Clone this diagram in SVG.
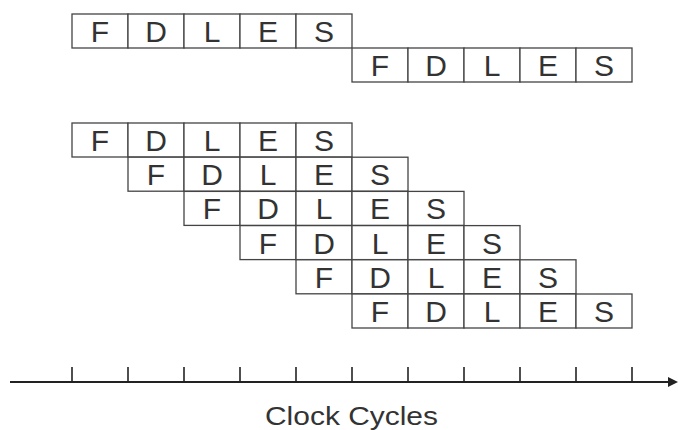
<svg xmlns="http://www.w3.org/2000/svg" width="678" height="430" viewBox="0 0 678 430">
<style>
.cell{fill:#fff;stroke:#444;stroke-width:1.3}
.lbl{font-family:"Liberation Sans",Arial,sans-serif;font-size:30px;fill:#333;text-anchor:middle}
.axis{stroke:#222;stroke-width:2;fill:none}
.tick{stroke:#222;stroke-width:1.6}
.cap{font-family:"Liberation Sans",Arial,sans-serif;font-size:25px;fill:#333}
</style>
<defs>
<g id="stages">
<rect class="cell" x="0" y="0" width="56" height="34"/>
<rect class="cell" x="56" y="0" width="56" height="34"/>
<rect class="cell" x="112" y="0" width="56" height="34"/>
<rect class="cell" x="168" y="0" width="56" height="34"/>
<rect class="cell" x="224" y="0" width="56" height="34"/>
<text class="lbl" x="28" y="28">F</text>
<text class="lbl" x="84" y="28">D</text>
<text class="lbl" x="140" y="28">L</text>
<text class="lbl" x="196" y="28">E</text>
<text class="lbl" x="252" y="28">S</text>
</g>
</defs>
<g id="seq1"><use href="#stages" x="72" y="14"/></g>
<g id="seq2"><use href="#stages" x="352" y="48"/></g>
<g id="pipe1"><use href="#stages" x="72" y="123"/></g>
<g id="pipe2"><use href="#stages" x="128" y="157.2"/></g>
<g id="pipe3"><use href="#stages" x="184" y="191.4"/></g>
<g id="pipe4"><use href="#stages" x="240" y="225.6"/></g>
<g id="pipe5"><use href="#stages" x="296" y="259.8"/></g>
<g id="pipe6"><use href="#stages" x="352" y="294"/></g>
<g id="connectors">
<line class="axis" x1="10" y1="382" x2="670" y2="382"/>
<polygon points="668,377 678,382 668,387" fill="#222"/>
<g class="tick">
<line x1="72" y1="367" x2="72" y2="382"/>
<line x1="128" y1="367" x2="128" y2="382"/>
<line x1="184" y1="367" x2="184" y2="382"/>
<line x1="240" y1="367" x2="240" y2="382"/>
<line x1="296" y1="367" x2="296" y2="382"/>
<line x1="352" y1="367" x2="352" y2="382"/>
<line x1="408" y1="367" x2="408" y2="382"/>
<line x1="464" y1="367" x2="464" y2="382"/>
<line x1="520" y1="367" x2="520" y2="382"/>
<line x1="576" y1="367" x2="576" y2="382"/>
<line x1="632" y1="367" x2="632" y2="382"/>
</g>
</g>
<text class="cap" x="265" y="425" textLength="173" lengthAdjust="spacingAndGlyphs">Clock Cycles</text>
</svg>
